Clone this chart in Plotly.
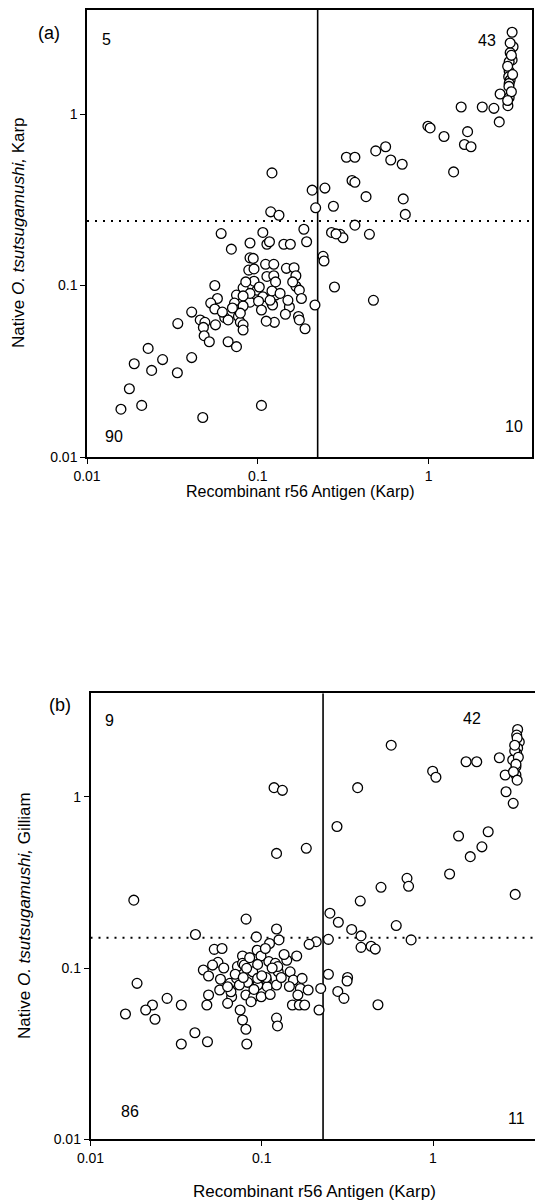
import plotly.graph_objects as go

# ---------------- Panel (a): Karp ----------------
a_x = [
    # upper right
    3.08, 3.12, 3.0, 3.08, 2.96, 2.96, 2.94, 3.0, 2.96, 2.62, 2.96, 2.91, 1.55, 2.06, 2.41, 2.59,
    0.99, 1.02, 1.23, 1.69, 1.62, 1.77, 1.40, 0.56, 0.49, 0.33, 0.37, 0.60, 0.70, 0.356, 0.37,
    0.247, 0.43, 0.71, 0.277, 0.73, 3.05, 2.9, 3.1, 2.95, 3.05, 3.0, 2.9,
    # upper left
    0.121, 0.208, 0.218, 0.119, 0.133,
    # lower right
    0.37, 0.270, 0.303, 0.315, 0.45, 0.241, 0.244, 0.281, 0.475, 0.287,
    # lower left
    0.061, 0.107, 0.186, 0.070, 0.090, 0.113, 0.117, 0.142, 0.155, 0.193, 0.090, 0.094, 0.0885,
    0.111, 0.124, 0.147, 0.163, 0.113, 0.124, 0.127, 0.167, 0.095, 0.056, 0.167, 0.175, 0.099,
    0.082, 0.075, 0.107, 0.127, 0.180, 0.058, 0.053, 0.073, 0.090, 0.101, 0.121, 0.122, 0.216,
    0.153, 0.056, 0.079, 0.082, 0.041, 0.046, 0.049, 0.064, 0.067, 0.077, 0.079, 0.173, 0.175,
    0.125, 0.034, 0.048, 0.0565, 0.082, 0.189,
    0.0485, 0.052, 0.067, 0.075, 0.082,
    0.0228, 0.041, 0.0277, 0.0189, 0.0239, 0.0338, 0.0177, 0.0209, 0.0158, 0.0476, 0.105,
    0.090, 0.082, 0.118, 0.121, 0.079, 0.071, 0.105, 0.135, 0.150, 0.085, 0.102, 0.145, 0.062,
    0.112, 0.095, 0.16,
]
a_y = [
    3.0, 2.47, 2.28, 2.07, 2.02, 1.78, 1.65, 1.58, 1.51, 1.31, 1.25, 1.12, 1.10, 1.10, 1.08, 0.90,
    0.85, 0.83, 0.74, 0.79, 0.665, 0.645, 0.46, 0.645, 0.61, 0.56, 0.56, 0.54, 0.51, 0.41, 0.40,
    0.37, 0.33, 0.32, 0.29, 0.26, 2.2, 1.9, 1.7, 1.45, 1.35, 2.6, 1.2,
    0.454, 0.36, 0.284, 0.269, 0.257,
    0.225, 0.204, 0.199, 0.19, 0.199, 0.148, 0.139, 0.098, 0.082, 0.20,
    0.201, 0.204, 0.213, 0.163, 0.177, 0.174, 0.18, 0.174, 0.174, 0.18, 0.145, 0.144, 0.123,
    0.133, 0.133, 0.126, 0.127, 0.113, 0.114, 0.105, 0.114, 0.106, 0.100, 0.099, 0.094, 0.094,
    0.097, 0.088, 0.086, 0.088, 0.084, 0.084, 0.079, 0.079, 0.080, 0.081, 0.0785, 0.077, 0.077,
    0.075, 0.073, 0.073, 0.076, 0.070, 0.063, 0.061, 0.065, 0.063, 0.066, 0.061, 0.066, 0.063,
    0.061, 0.060, 0.057, 0.059, 0.059, 0.056,
    0.051, 0.047, 0.047, 0.044, 0.055,
    0.043, 0.038, 0.037, 0.035, 0.032, 0.031, 0.025, 0.020, 0.019, 0.017, 0.020,
    0.090, 0.087, 0.082, 0.093, 0.069, 0.074, 0.072, 0.090, 0.082, 0.105, 0.098, 0.068, 0.070,
    0.062, 0.125, 0.105,
]
a_cut_x = 0.224
a_cut_y = 0.238
a_counts = ["5", "43", "90", "10"]

# ---------------- Panel (b): Gilliam ----------------
b_x = [
    # upper right
    3.12, 3.08, 3.19, 3.02, 3.12, 3.08, 2.92, 3.05, 2.64, 3.05, 2.44, 1.56, 1.80, 0.995, 1.04,
    0.57, 0.363, 2.67, 2.94, 0.275, 1.41, 2.10, 1.93, 1.65, 1.25, 3.02, 0.705, 0.72, 0.497,
    0.376, 0.25, 0.28, 0.335, 0.38, 0.61, 3.1, 3.0, 3.15, 3.05, 2.95, 3.1, 3.0,
    # upper left
    0.0179, 0.118, 0.132, 0.122, 0.182, 0.081, 0.041, 0.122, 0.093,
    # lower right
    0.745, 0.245, 0.38, 0.435, 0.46, 0.245, 0.317, 0.315, 0.278, 0.302, 0.477,
    # lower left
    0.126, 0.111, 0.094, 0.160, 0.140, 0.099, 0.0528, 0.0586, 0.0456, 0.0555, 0.0489, 0.0574,
    0.0568, 0.0489, 0.0478, 0.0652, 0.0667, 0.0714, 0.0721, 0.0772, 0.0772, 0.0886, 0.0827,
    0.0808, 0.0897, 0.0993, 0.0948, 0.1064, 0.1077, 0.110, 0.120, 0.122, 0.1248, 0.1465, 0.153,
    0.172, 0.168, 0.1866, 0.221, 0.151, 0.1657, 0.178, 0.0748, 0.0772, 0.0808, 0.0818, 0.122,
    0.1236, 0.0339, 0.0407, 0.0482, 0.0339, 0.028, 0.023, 0.021, 0.0238, 0.016, 0.0187, 0.208,
    0.189, 0.216,
    0.0516, 0.079, 0.0816, 0.0946, 0.106, 0.124, 0.0661, 0.074, 0.0632, 0.0946, 0.1625, 0.0866,
    0.0632,
    0.085, 0.100, 0.115, 0.135, 0.070, 0.090, 0.130, 0.060, 0.105, 0.145, 0.078, 0.112,
]
b_y = [
    2.47, 2.29, 2.09, 1.98, 1.92, 1.79, 1.64, 1.50, 1.34, 1.34, 1.69, 1.60, 1.60, 1.41, 1.30,
    2.0, 1.13, 1.07, 0.915, 0.67, 0.59, 0.625, 0.51, 0.447, 0.354, 0.269, 0.334, 0.30, 0.296,
    0.246, 0.209, 0.185, 0.168, 0.154, 0.177, 2.2, 1.85, 1.7, 1.55, 1.4, 1.25, 2.0,
    0.249, 1.13, 1.09, 0.467, 0.50, 0.193, 0.157, 0.169, 0.152,
    0.146, 0.147, 0.132, 0.134, 0.129, 0.092, 0.088, 0.084, 0.073, 0.0665, 0.061,
    0.146, 0.139, 0.127, 0.1175, 0.111, 0.1175, 0.1285, 0.130, 0.0974, 0.108, 0.0898, 0.086,
    0.0744, 0.0696, 0.0608, 0.0814, 0.068, 0.087, 0.102, 0.1175, 0.1065, 0.095, 0.0825,
    0.0696, 0.068, 0.068, 0.0796, 0.085, 0.0778, 0.109, 0.1065, 0.0796, 0.095, 0.095, 0.085,
    0.087, 0.076, 0.0744, 0.076, 0.0608, 0.0608, 0.0608, 0.0569, 0.0497, 0.0439, 0.036, 0.051,
    0.0459, 0.0608, 0.0419, 0.0371, 0.036, 0.0665, 0.0608, 0.0569, 0.0502, 0.0539, 0.0814, 0.1425,
    0.1375, 0.0569,
    0.104, 0.104, 0.0996, 0.105, 0.088, 0.102, 0.0727, 0.0796, 0.0778, 0.087, 0.0696, 0.0636,
    0.0622,
    0.115, 0.090, 0.100, 0.120, 0.092, 0.075, 0.088, 0.100, 0.130, 0.078, 0.088, 0.070,
]
b_cut_x = 0.228
b_cut_y = 0.150
b_counts = ["9", "42", "86", "11"]

tick_vals = [0.01, 0.1, 1]
tick_text = ["0.01", "0.1", "1"]
x_title = "Recombinant r56 Antigen (Karp)"
a_y_title = "Native <i>O. tsutsugamushi,</i> Karp"
b_y_title = "Native <i>O. tsutsugamushi,</i> Gilliam"

W, H = 535, 1200
FONT = "Liberation Sans, Arial, Helvetica, sans-serif"

# ranges (log10 units)
a_xr = [-2, 0.605]
a_yr = [-2, 0.607]
b_xr = [-2, 0.5956]
b_yr = [-2, 0.604]

fig = go.Figure()

def add_panel(xs, ys, cx, cy, xr, yr, xa, ya):
    xmin, xmax = 10 ** xr[0], 10 ** xr[1]
    ymin, ymax = 10 ** yr[0], 10 ** yr[1]
    fig.add_trace(go.Scatter(x=[cx, cx], y=[ymin, ymax], mode="lines",
                             line=dict(color="black", width=1.6),
                             xaxis=xa, yaxis=ya, hoverinfo="skip", showlegend=False))
    fig.add_trace(go.Scatter(x=[xmin, xmax], y=[cy, cy], mode="lines",
                             line=dict(color="black", width=2, dash="2px,6px"),
                             xaxis=xa, yaxis=ya, hoverinfo="skip", showlegend=False))
    fig.add_trace(go.Scatter(x=xs, y=ys, mode="markers",
                             marker=dict(symbol="circle", size=9.8, color="white",
                                         line=dict(color="black", width=1.3)),
                             xaxis=xa, yaxis=ya, showlegend=False, cliponaxis=False))

add_panel(a_x, a_y, a_cut_x, a_cut_y, a_xr, a_yr, "x", "y")
add_panel(b_x, b_y, b_cut_x, b_cut_y, b_xr, b_yr, "x2", "y2")

axis_common = dict(type="log", showgrid=False, zeroline=False, showline=True, automargin=False,
                   linecolor="black", linewidth=1.5, ticks="outside", ticklen=5,
                   tickwidth=1.2, tickcolor="black", tickvals=tick_vals, ticktext=tick_text,
                   tickfont=dict(family=FONT, size=14, color="black"))

fig.update_layout(
    template="none",
    width=W, height=H, margin=dict(l=0, r=0, t=0, b=0, pad=0, autoexpand=False),
    paper_bgcolor="white", plot_bgcolor="white", showlegend=False,
    xaxis=dict(axis_common, domain=[87 / W, 532 / W], range=a_xr, anchor="y", mirror=True),
    yaxis=dict(axis_common, domain=[1 - 457 / H, 1 - 10 / H], range=a_yr, anchor="x", mirror=True),
    xaxis2=dict(axis_common, domain=[90.5 / W, 1.0], range=b_xr, anchor="y2", mirror=True),
    yaxis2=dict(axis_common, domain=[1 - 1139.3 / H, 1 - 693.3 / H], range=b_yr, anchor="x2", mirror=False),
)

def px(x, y, text, size, **kw):
    fig.add_annotation(x=x / W, y=1 - y / H, xref="paper", yref="paper", text=text,
                       showarrow=False, font=dict(family=FONT, size=size, color="black"),
                       xanchor="center", yanchor="middle", **kw)

# panel labels
px(49, 33, "(a)", 18)
px(60, 705, "(b)", 18)

# quadrant counts: UL, UR, LL, LR
for (x, y), t in zip([(106.5, 40), (487, 40.7), (114, 436.7), (513.6, 426.7)], a_counts):
    px(x, y, t, 16)
for (x, y), t in zip([(109.5, 720), (472, 718.3), (130, 1111.7), (516, 1118.3)], b_counts):
    px(x, y, t, 16)

# axis titles
px(300, 491, x_title, 16)
px(314, 1191, x_title, 17)
px(19, 233, a_y_title, 17, textangle=-90)
px(24, 916, b_y_title, 17, textangle=-90)

fig.write_html("out.html", config={"displayModeBar": False},
               post_script="document.body.style.margin='0px';document.body.style.overflow='hidden';")
